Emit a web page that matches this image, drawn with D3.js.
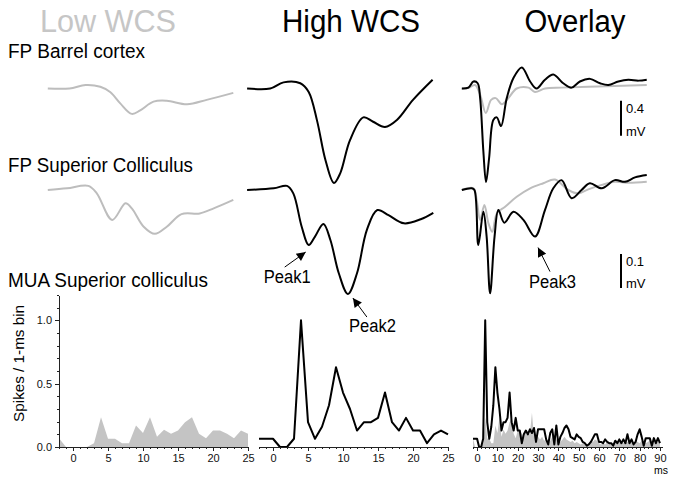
<!DOCTYPE html>
<html>
<head>
<meta charset="utf-8">
<script src="https://cdn.jsdelivr.net/npm/d3@7"></script>
<style>
body { margin: 0; background: #fff; }
svg text { font-family: "Liberation Sans", Arial, sans-serif; }
.axis path, .axis line { stroke: #222; shape-rendering: crispEdges; }
</style>
</head>
<body>
<script>
// MUA histograms, 1-ms bins, spikes per bin
var binsEarly = d3.range(-2, 26),   // -2 .. 25 ms
    binsLate = d3.range(26, 91);    // 26 .. 90 ms (overlay only)

var muaLow = [0.07, 0, 0, 0, 0, 0.03, 0.235, 0.065, 0.065, 0.03, 0.03, 0.17, 0.11, 0.235,
  0.08, 0.136, 0.105, 0.13, 0.196, 0.235, 0.105, 0.07, 0.13, 0.13, 0.105, 0.07, 0.13, 0.105];
var muaHigh = [0.065, 0.065, 0.065, 0, 0, 0.065, 1.0, 0.196, 0.065, 0.16, 0.33, 0.63, 0.43, 0.30,
  0.13, 0.196, 0.196, 0.23, 0.43, 0.196, 0.13, 0.23, 0.13, 0.13, 0.03, 0.1, 0.13, 0.1];
var muaLowLate = [0.1, 0.27, 0.08, 0.1, 0.08, 0.06, 0.08, 0.05, 0.06, 0.03, 0.05, 0.08, 0.1, 0.06,
  0.05, 0.04, 0.06, 0.08, 0.06, 0.05, 0.04, 0.05, 0.03, 0.04, 0.03, 0.02, 0.03, 0.02, 0.02, 0.03,
  0.05, 0.04, 0.06, 0.05, 0.03, 0.02, 0.03, 0.02, 0.04, 0.03, 0.02, 0.03, 0.04, 0.03, 0.05, 0.04,
  0.03, 0.05, 0.04, 0.06, 0.04, 0.03, 0.05, 0.04, 0.03, 0.05, 0.04, 0.03, 0.04, 0.05, 0.03, 0.04,
  0.03, 0.04, 0.03];
var muaHighLate = [0.14, 0.11, 0.15, 0.04, 0.14, 0.14, 0.14, 0.14, 0.06, 0.02, 0.11, 0.14, 0.02, 0.17,
  0.02, 0.08, 0.11, 0.15, 0.17, 0.14, 0.08, 0.07, 0.06, 0.1, 0.08, 0.07, 0.04, 0.03, 0.01, 0.02,
  0.04, 0.07, 0.1, 0.1, 0.04, 0.04, 0.03, 0.06, 0.04, 0.03, 0.03, 0.01, 0.05, 0.03, 0.06, 0.03,
  0.06, 0.03, 0.1, 0.03, 0.06, 0.02, 0.04, 0.1, 0.14, 0.08, 0.01, 0.07, 0.07, 0.07, 0.01, 0.07,
  0.03, 0.07, 0.03];

// field potentials, [ms, mV]
var barrelLow = [[-3.6, 0], [-0.5, 0], [1.8, 0.04], [3.9, 0.02], [5.3, -0.04], [6.75, -0.17],
  [8.4, -0.29], [9.6, -0.25], [11.5, -0.15], [13.4, -0.14], [16.3, -0.18], [19.1, -0.13], [22.9, -0.05]];
var barrelHigh = [[-3.7, 0], [-0.4, 0], [1.5, 0.07], [3.9, 0.06], [5.1, -0.04], [6.3, -0.37],
  [7.5, -0.82], [8.7, -1.08], [9.6, -0.97], [11.0, -0.59], [12.9, -0.33], [14.3, -0.38],
  [16.0, -0.44], [17.7, -0.36], [20.0, -0.13], [22.8, 0.1]];
var scLow = [[-3.6, 0], [-0.85, 0.005], [2.2, 0.012], [3.4, -0.01], [5.6, -0.088], [7.5, -0.039],
  [8.4, -0.054], [10.1, -0.108], [11.7, -0.129], [13.4, -0.108], [15.5, -0.071], [18.1, -0.069],
  [20.1, -0.054], [22.9, -0.029]];
var scHigh = [[-3.7, 0], [0.1, 0.005], [2.0, 0.012], [2.9, -0.01], [4.1, -0.108], [5.1, -0.162],
  [6.0, -0.137], [7.2, -0.1], [8.2, -0.147], [9.4, -0.245], [10.7, -0.306], [12.0, -0.245],
  [13.4, -0.118], [14.9, -0.059], [16.5, -0.074], [18.7, -0.098], [21.1, -0.086], [22.9, -0.067]];

var barrelOvLow = [[-7.5, 0], [-4.3, 0.005], [-1.0, 0.04], [1.5, -0.07], [4.3, -0.28], [6.9, -0.13],
  [9.2, -0.11], [12.2, -0.18], [15.4, -0.11], [19.5, 0], [25.3, 0.01], [28.5, -0.04], [33.4, 0],
  [41.6, 0.01], [54.8, 0.02], [83.5, 0.04]];
var barrelOvHigh = [[-7.5, 0], [-4.3, 0.01], [-1.8, 0.08], [0.3, 0.06], [1.5, -0.11], [3.1, -0.72],
  [4.4, -1.07], [5.9, -0.8], [8.0, -0.36], [9.7, -0.33], [11.8, -0.43], [14.6, -0.11], [17.9, 0.12],
  [22, 0.24], [26.1, 0.08], [29.3, 0], [33.4, 0.1], [37.5, 0.16], [42.4, 0.06], [46.5, 0.01],
  [50.6, 0.08], [55.6, 0.11], [60.5, 0.06], [64.6, 0.04], [69.5, 0.08], [74.4, 0.1], [79.4, 0.09],
  [83.5, 0.1]];
var scOvLow = [[-7.5, 0], [-1.8, 0.005], [-0.2, -0.029], [1.5, -0.088], [3.6, -0.044], [5.6, -0.098],
  [7.5, -0.123], [9.7, -0.069], [13.8, -0.049], [19.5, -0.02], [26.1, 0.005], [32.6, 0.02],
  [38.3, 0.031], [44.9, 0], [49.8, -0.01], [54.7, 0.002], [61.3, 0.015], [67.8, 0.024],
  [74.4, 0.021], [83.5, 0.024]];
var scOvHigh = [[-7.5, 0], [-2.6, 0.005], [-1.3, 0], [0.6, -0.162], [3.1, -0.064], [4.7, -0.137],
  [6.4, -0.304], [8.6, -0.137], [10.5, -0.059], [13.4, -0.096], [17.9, -0.064], [22.8, -0.088],
  [28.5, -0.137], [33.4, -0.059], [37.5, 0.005], [41.6, 0.029], [46.5, -0.024], [51.4, 0],
  [55.5, 0.02], [61.3, 0.005], [67.8, 0.029], [72.8, 0.024], [77.7, 0.037], [83.5, 0.044]];

var titles = ["Low WCS", "High WCS", "Overlay"];
var rowLabels = ["FP Barrel cortex", "FP Superior Colliculus", "MUA Superior colliculus"];
var muaTicks = [0, 0.5, 1.0];

var width = 679,
    height = 478,
    grey = "#bdbdbd";

var svg = d3.select("body").append("svg")
    .attr("width", width)
    .attr("height", height);

var xLow = d3.scaleLinear().domain([-2, 25]).range([59, 248]),
    xHigh = d3.scaleLinear().domain([-2, 25]).range([259, 448]),
    xOver = d3.scaleLinear().domain([-2.5, 91]).range([472, 662]),
    yMua = d3.scaleLinear().domain([0, 1.2]).range([447, 295]),
    yBarrel = d3.scaleLinear().domain([0, 0.4]).range([88.5, 53.5]),
    ySc = d3.scaleLinear().domain([0, 0.1]).range([190, 156]);

var early = binsEarly.map(function(t, i) { return {t: t, low: muaLow[i], high: muaHigh[i]}; });
var all = early.concat(binsLate.map(function(t, i) {
  return {t: t, low: muaLowLate[i], high: muaHighLate[i]};
}));

// column titles and row labels
var titleX = [108, 351, 575], titleW = [136, 138, 101];
svg.selectAll(".title")
  .data(titles)
  .enter().append("text")
  .attr("class", "title")
  .attr("x", function(d, i) { return titleX[i] - titleW[i] / 2; })
  .attr("y", 32)
  .attr("textLength", function(d, i) { return titleW[i]; })
  .attr("lengthAdjust", "spacingAndGlyphs")
  .style("font-size", "31px")
  .attr("fill", function(d, i) { return i == 0 ? "#c6c6c6" : "#000"; })
  .text(function(d) { return d; });

var labelY = [58, 172, 287], labelW = [137, 185, 200];
svg.selectAll(".rowlabel")
  .data(rowLabels)
  .enter().append("text")
  .attr("class", "rowlabel")
  .attr("x", 8)
  .attr("y", function(d, i) { return labelY[i]; })
  .attr("textLength", function(d, i) { return labelW[i]; })
  .attr("lengthAdjust", "spacingAndGlyphs")
  .style("font-size", "20px")
  .text(function(d) { return d; });

// field potential traces
function trace(data, x, y, colour) {
  svg.append("path")
    .datum(data)
    .attr("fill", "none")
    .attr("stroke", colour)
    .attr("stroke-width", 2)
    .attr("stroke-linejoin", "round")
    .attr("d", d3.line()
      .curve(d3.curveCatmullRom.alpha(0.5))
      .x(function(d) { return x(d[0]); })
      .y(function(d) { return y(d[1]); }));
}

trace(barrelLow, xLow, yBarrel, grey);
trace(scLow, xLow, ySc, grey);
trace(barrelHigh, xHigh, yBarrel, "#000");
trace(scHigh, xHigh, ySc, "#000");
trace(barrelOvLow, xOver, yBarrel, grey);
trace(barrelOvHigh, xOver, yBarrel, "#000");
trace(scOvLow, xOver, ySc, grey);
trace(scOvHigh, xOver, ySc, "#000");

// scale bars
function scaleBar(y, top, size, label) {
  var x = 621;
  svg.append("line")
    .attr("x1", x).attr("x2", x)
    .attr("y1", y(top)).attr("y2", y(top - size))
    .attr("stroke", "#000")
    .attr("stroke-width", 2);
  svg.append("text")
    .attr("x", x + 5).attr("y", y(top) + 12)
    .style("font-size", "13px")
    .text(label);
  svg.append("text")
    .attr("x", x + 5).attr("y", y(top - size))
    .style("font-size", "13px")
    .text("mV");
}
scaleBar(yBarrel, -0.14, 0.4, "0.4");
scaleBar(ySc, -0.188, 0.1, "0.1");

// peak annotations
svg.append("defs").append("marker")
  .attr("id", "head")
  .attr("viewBox", "0 0 10 10")
  .attr("refX", 10).attr("refY", 5)
  .attr("markerWidth", 12).attr("markerHeight", 9)
  .attr("markerUnits", "userSpaceOnUse")
  .attr("orient", "auto")
  .append("path")
  .attr("d", "M0,0L10,5L0,10z");

var peaks = [
  {label: "Peak1", x: xHigh, t: 5.1, v: -0.162, tip: [-3, 7], tail: [-24, 22], text: [-45, 38]},
  {label: "Peak2", x: xHigh, t: 10.7, v: -0.306, tip: [5, 4], tail: [19, 23], text: [1, 38]},
  {label: "Peak3", x: xOver, t: 28.5, v: -0.137, tip: [3, 11], tail: [15, 35], text: [-6, 51]}
];
peaks.forEach(function(p) {
  var px = p.x(p.t), py = ySc(p.v);
  svg.append("line")
    .attr("x1", px + p.tail[0]).attr("y1", py + p.tail[1])
    .attr("x2", px + p.tip[0]).attr("y2", py + p.tip[1])
    .attr("stroke", "#000")
    .attr("stroke-width", 1)
    .attr("marker-end", "url(#head)");
  svg.append("text")
    .attr("x", px + p.text[0]).attr("y", py + p.text[1])
    .attr("textLength", 47)
    .attr("lengthAdjust", "spacingAndGlyphs")
    .style("font-size", "18px")
    .text(p.label);
});

// MUA histograms
var area = function(x) {
  return d3.area()
    .x(function(d) { return x(d.t); })
    .y0(yMua(0))
    .y1(function(d) { return yMua(d.low); });
};
var line = function(x) {
  return d3.line()
    .x(function(d) { return x(d.t); })
    .y(function(d) { return yMua(d.high); });
};

svg.append("path").datum(early).attr("fill", "#c4c4c4").attr("d", area(xLow));
svg.append("path").datum(early).attr("fill", "none").attr("stroke", "#000")
  .attr("stroke-width", 2).attr("stroke-linejoin", "round").attr("d", line(xHigh));
svg.append("path").datum(all).attr("fill", "#c4c4c4").attr("d", area(xOver));
svg.append("path").datum(all).attr("fill", "none").attr("stroke", "#000")
  .attr("stroke-width", 2).attr("stroke-linejoin", "round").attr("d", line(xOver));

// axes
function timeAxis(x, step, minorStep, last) {
  var g = svg.append("g")
    .attr("class", "axis")
    .attr("transform", "translate(0," + yMua(0) + ")");
  g.append("g")
    .call(d3.axisBottom(x)
      .tickValues(d3.range(-2, last + 0.01, minorStep))
      .tickSize(2).tickSizeOuter(0).tickFormat(""));
  g.append("g")
    .call(d3.axisBottom(x)
      .tickValues(d3.range(0, last + 0.01, step))
      .tickSize(4).tickSizeOuter(0).tickPadding(3))
    .call(function(a) { a.select(".domain").remove(); });
  g.selectAll("text")
    .attr("fill", "#111")
    .style("font-family", "'Liberation Sans', Arial, sans-serif")
    .style("font-size", "11px");
  return g;
}

timeAxis(xLow, 5, 1, 25);
timeAxis(xHigh, 5, 1, 25);
timeAxis(xOver, 10, 2, 90);

svg.append("text")
  .attr("x", xOver(90) + 1)
  .attr("y", yMua(0) + 27)
  .attr("text-anchor", "middle")
  .style("font-size", "10.5px")
  .text("ms");

var yAxis = svg.append("g")
  .attr("class", "axis")
  .attr("transform", "translate(" + xLow(-2) + ",0)");
yAxis.append("g")
  .call(d3.axisLeft(yMua).tickValues(d3.range(0, 1.21, 0.1)).tickSize(2).tickSizeOuter(0).tickFormat(""));
yAxis.append("g")
  .call(d3.axisLeft(yMua).tickValues(muaTicks).tickSize(4).tickSizeOuter(0)
    .tickPadding(3).tickFormat(d3.format(".1f")))
  .call(function(a) { a.select(".domain").remove(); });
yAxis.selectAll("text")
  .attr("fill", "#111")
  .style("font-family", "'Liberation Sans', Arial, sans-serif")
  .style("font-size", "11px");

svg.append("text")
  .attr("transform", "translate(24," + yMua(0.66) + ") rotate(-90)")
  .attr("text-anchor", "middle")
  .attr("textLength", 117)
  .attr("lengthAdjust", "spacingAndGlyphs")
  .style("font-size", "15px")
  .text("Spikes / 1-ms bin");
</script>
</body>
</html>
